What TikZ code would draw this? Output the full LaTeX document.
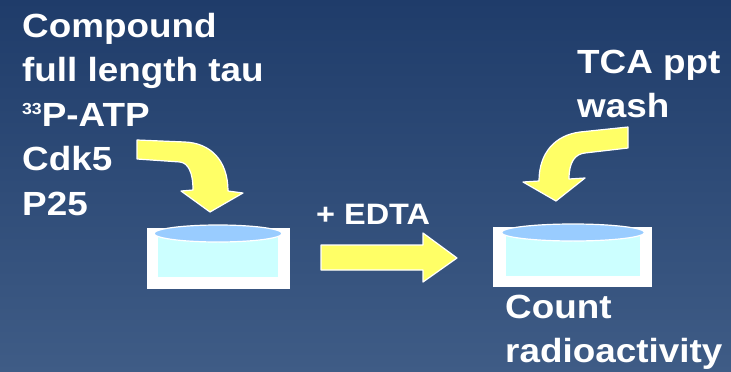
\documentclass[tikz,border=0pt]{standalone}
\usepackage{fontspec}
\newfontfamily\lab[FakeStretch=1.1]{Liberation Sans}
\definecolor{bgtop}{HTML}{1F3C6A}
\definecolor{bgbot}{HTML}{3F5C86}
\definecolor{arrowyel}{HTML}{FFFF66}
\definecolor{liquid}{HTML}{CCFFFF}
\definecolor{surface}{HTML}{99CCFF}
\tikzset{
  lbl/.style={anchor=base west, inner sep=0pt, text=white, font=\lab\bfseries\fontsize{33.5}{44.5}\selectfont},
  smalllbl/.style={lbl, font=\lab\bfseries\fontsize{29.5}{36}\selectfont},
  yarrow/.style={fill=arrowyel, draw=white, line width=1.2pt, line join=round},
  cupwall/.style={fill=white, draw=none},
  cupliquid/.style={fill=liquid, draw=none},
  cupsurface/.style={fill=surface, draw=white, line width=1.2pt}
}
\begin{document}
\begin{tikzpicture}[x=1pt,y=-1pt]
\useasboundingbox (0,0) rectangle (731,372);
\shade[top color=bgtop, bottom color=bgbot] (0,0) rectangle (731,372);

% left labels
\node[lbl] (compound) at (22,37) {Compound};
\node[lbl] (tau) at (22,81.5) {full length tau};
\node[lbl] (atp) at (22,126) {{\fontsize{16}{16}\selectfont\raisebox{12pt}{33}}P-ATP};
\node[lbl] (cdk) at (22,170.5) {Cdk5};
\node[lbl] (p25) at (22,215) {P25};

% right labels
\node[lbl] (tca) at (577,73) {TCA ppt};
\node[lbl] (wash) at (577,117) {wash};
\node[lbl] (count) at (505,318) {Count};
\node[lbl] (radio) at (505,362) {radioactivity};

% middle label
\node[smalllbl] (edta) at (316,224) {+ EDTA};

% left cup
\fill[cupwall] (147,228) rectangle (290,289);
\fill[cupliquid] (158,234) rectangle (278,277);
\draw[cupsurface] (218,233.5) ellipse [x radius=64, y radius=8.5];

% right cup
\fill[cupwall] (493,227) rectangle (652,287);
\fill[cupliquid] (506,233) rectangle (640,276);
\draw[cupsurface] (573,232.5) ellipse [x radius=71.5, y radius=8.5];

% left curved arrow
\draw[yarrow] (137,140) -- (185,142) .. controls (210,143) and (228,160) .. (228,191)
  -- (243,193) -- (210,212) -- (181,191) -- (193,190)
  .. controls (193,172) and (188,163) .. (180,162) -- (137,159) -- cycle;

% right curved arrow
\draw[yarrow] (628,127) -- (580,132) .. controls (556,135) and (539,152) .. (539,181)
  -- (523,182) -- (556,201) -- (585,178) -- (569,179)
  .. controls (569,162) and (575,154) .. (585,153) -- (628,148) -- cycle;

% straight arrow
\draw[yarrow] (321,245) -- (423,245) -- (423,233) -- (457,258) -- (423,282)
  -- (423,270) -- (321,270) -- cycle;
\end{tikzpicture}
\end{document}
